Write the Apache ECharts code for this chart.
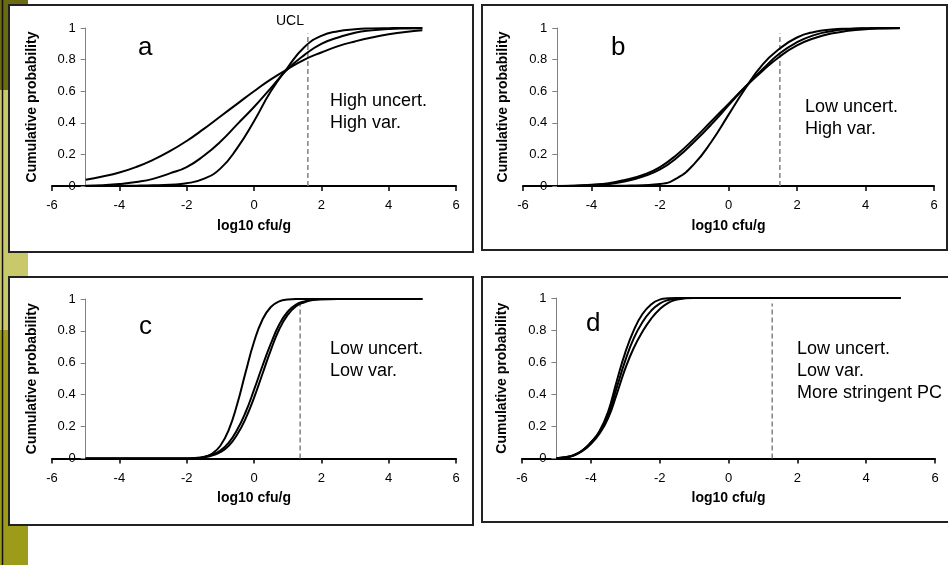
<!DOCTYPE html>
<html>
<head>
<meta charset="utf-8">
<script src="https://cdn.jsdelivr.net/npm/echarts@6/dist/echarts.min.js"></script>
<style>
html, body { margin: 0; padding: 0; background: #fff; }
#chart { width: 948px; height: 565px; }
</style>
</head>
<body>
<div id="chart"></div>
<script>
// x values (log10 cfu/g)
var xsAB = [-5, -4.5, -4, -3.5, -3, -2.5, -2, -1.5, -1, -0.5, 0, 0.5, 1, 1.5, 2, 2.5, 3, 3.5, 4, 4.5, 5];
var xsC = [-5, -2.5, -2, -1.75, -1.5, -1.25, -1, -0.75, -0.5, -0.25, 0, 0.25, 0.5, 0.75, 1, 1.25, 1.5, 1.75, 2, 2.5, 3, 5];
var xsD = [-5, -4.75, -4.5, -4.25, -4, -3.75, -3.5, -3.25, -3, -2.75, -2.5, -2.25, -2, -1.75, -1.5, -1.25, -1, 0, 5];

// panel a: high uncertainty, high variability
var a1 = [0.04, 0.06, 0.085, 0.12, 0.165, 0.22, 0.285, 0.36, 0.44, 0.52, 0.60, 0.675, 0.74, 0.80, 0.845, 0.885, 0.915, 0.94, 0.96, 0.975, 0.985];
var a2 = [0.002, 0.005, 0.012, 0.025, 0.045, 0.08, 0.12, 0.19, 0.28, 0.39, 0.50, 0.62, 0.74, 0.83, 0.90, 0.94, 0.97, 0.985, 0.993, 0.997, 0.999];
var a3 = [0, 0, 0.001, 0.002, 0.004, 0.008, 0.017, 0.045, 0.11, 0.24, 0.41, 0.60, 0.75, 0.88, 0.95, 0.98, 0.992, 0.997, 0.999, 1, 1];

// panel b: low uncertainty, high variability
var b1 = [0, 0.002, 0.008, 0.018, 0.04, 0.07, 0.12, 0.2, 0.3, 0.41, 0.52, 0.63, 0.73, 0.82, 0.89, 0.935, 0.965, 0.982, 0.992, 0.997, 0.999];
var b2 = [0, 0.001, 0.005, 0.012, 0.03, 0.06, 0.105, 0.18, 0.28, 0.39, 0.51, 0.63, 0.74, 0.84, 0.91, 0.955, 0.98, 0.992, 0.997, 0.999, 1];
var b3 = [0, 0, 0, 0.001, 0.002, 0.005, 0.012, 0.05, 0.14, 0.28, 0.45, 0.62, 0.77, 0.87, 0.94, 0.975, 0.99, 0.996, 0.999, 1, 1];

// panel c: low uncertainty, low variability
var c1 = [0, 0, 0, 0.001, 0.008, 0.03, 0.08, 0.18, 0.34, 0.54, 0.73, 0.87, 0.95, 0.985, 0.997, 1, 1, 1, 1, 1, 1, 1];
var c2 = [0, 0, 0, 0.003, 0.01, 0.025, 0.05, 0.1, 0.18, 0.29, 0.43, 0.58, 0.72, 0.84, 0.92, 0.965, 0.985, 0.995, 0.999, 1, 1, 1];
var c3 = [0, 0, 0, 0.002, 0.007, 0.018, 0.04, 0.08, 0.15, 0.25, 0.38, 0.53, 0.68, 0.81, 0.9, 0.955, 0.98, 0.993, 0.998, 1, 1, 1];

// panel d: more stringent PC
var d1 = [0.002, 0.008, 0.02, 0.05, 0.1, 0.17, 0.29, 0.48, 0.66, 0.8, 0.9, 0.96, 0.99, 0.998, 1, 1, 1, 1, 1];
var d2 = [0.002, 0.008, 0.02, 0.05, 0.1, 0.165, 0.27, 0.44, 0.61, 0.75, 0.85, 0.92, 0.965, 0.988, 0.997, 1, 1, 1, 1];
var d3 = [0.002, 0.007, 0.018, 0.045, 0.09, 0.155, 0.25, 0.4, 0.56, 0.69, 0.79, 0.87, 0.93, 0.97, 0.99, 0.998, 1, 1, 1];

// UCL (dashed line) per panel
var uclValues = [1.6, 1.5, 1.37, 1.27];
var uclTop = 0.965;

var panelLetters = ['a', 'b', 'c', 'd'];
var panelNotes = [
	'High uncert.\nHigh var.',
	'Low uncert.\nHigh var.',
	'Low uncert.\nLow var.',
	'Low uncert.\nLow var.\nMore stringent PC'
];
var xName = 'log10 cfu/g';
var yName = 'Cumulative probability';

var FONT = 'Arial, "Liberation Sans", sans-serif';

var panels = [
	{ box: [52, 28, 404, 158], xs: xsAB, curves: [a1, a2, a3], letterPos: [138, 35], notePos: [330, 90] },
	{ box: [523, 28, 411, 158], xs: xsAB, curves: [b1, b2, b3], letterPos: [611, 35], notePos: [805, 96] },
	{ box: [52, 299, 404, 159.5], xs: xsC, curves: [c1, c2, c3], letterPos: [139, 314], notePos: [330, 338] },
	{ box: [522, 298, 413, 160.5], xs: xsD, curves: [d1, d2, d3], letterPos: [586, 311], notePos: [797, 338] }
];

var grids = [], xAxes = [], yAxes = [], series = [];

panels.forEach(function (p, i) {
	var l = p.box[0], t = p.box[1], w = p.box[2], h = p.box[3];
	// x axis grid: -6 .. 6
	grids.push({ left: l, top: t, width: w, height: h });
	// y axis sits at x = -5, curves are drawn here
	grids.push({ left: l + w / 12, top: t, width: w * 11 / 12, height: h });

	xAxes.push({
		gridIndex: 2 * i, type: 'value', min: -6, max: 6, interval: 2,
		name: xName, nameLocation: 'middle', nameGap: 33,
		nameTextStyle: { fontFamily: FONT, fontSize: 14, fontWeight: 'bold', color: '#000' },
		axisLine: { onZero: false, lineStyle: { color: '#000', width: 2 } },
		axisTick: { show: true, length: 5, lineStyle: { color: '#000', width: 1.5 } },
		axisLabel: { fontFamily: FONT, fontSize: 13, color: '#000', margin: 13 },
		splitLine: { show: false }
	});
	yAxes.push({ gridIndex: 2 * i, type: 'value', min: 0, max: 1, show: false });

	xAxes.push({ gridIndex: 2 * i + 1, type: 'value', min: -5, max: 6, show: false });
	yAxes.push({
		gridIndex: 2 * i + 1, type: 'value', min: 0, max: 1, interval: 0.2,
		name: yName, nameLocation: 'middle', nameGap: 47,
		nameTextStyle: { fontFamily: FONT, fontSize: 14, fontWeight: 'bold', color: '#000' },
		axisLine: { show: true, onZero: false, lineStyle: { color: '#808080', width: 1 } },
		axisTick: { show: true, length: 5, lineStyle: { color: '#808080', width: 1 } },
		axisLabel: { fontFamily: FONT, fontSize: 13, color: '#000', margin: 10 },
		splitLine: { show: false }
	});

	p.curves.forEach(function (ys) {
		series.push({
			type: 'line', xAxisIndex: 2 * i + 1, yAxisIndex: 2 * i + 1,
			data: p.xs.map(function (x, k) { return [x, ys[k]]; }),
			smooth: 0.5, showSymbol: false, symbol: 'none',
			lineStyle: { color: '#000', width: 2 }, z: 3
		});
	});

	// UCL dashed line
	series.push({
		type: 'line', xAxisIndex: 2 * i + 1, yAxisIndex: 2 * i + 1,
		data: [[uclValues[i], 0], [uclValues[i], uclTop]],
		showSymbol: false, symbol: 'none',
		lineStyle: { color: '#808080', width: 1.5, type: [5, 3] }, z: 2
	});
});

// panel frames, left olive strip, labels
var graphics = [
	{ type: 'rect', shape: { x: 0, y: 0, width: 8, height: 90 }, style: { fill: '#6b6b12' }, silent: true },
	{ type: 'rect', shape: { x: 0, y: 90, width: 8, height: 240 }, style: { fill: '#c9c96b' }, silent: true },
	{ type: 'rect', shape: { x: 0, y: 330, width: 8, height: 235 }, style: { fill: '#9c9c1a' }, silent: true },
	{ type: 'rect', shape: { x: 0, y: 0, width: 28, height: 5 }, style: { fill: '#6b6b12' }, silent: true },
	{ type: 'rect', shape: { x: 8, y: 253, width: 20, height: 24 }, style: { fill: '#c9c96b' }, silent: true },
	{ type: 'rect', shape: { x: 8, y: 525, width: 20, height: 40 }, style: { fill: '#9c9c1a' }, silent: true },
	{ type: 'line', shape: { x1: 2.5, y1: 0, x2: 2.5, y2: 565 }, style: { stroke: '#111', lineWidth: 1.5 }, silent: true },
	{ type: 'rect', shape: { x: 9, y: 5, width: 464, height: 247 }, style: { fill: null, stroke: '#222', lineWidth: 2 }, silent: true },
	{ type: 'rect', shape: { x: 482, y: 5, width: 465, height: 245 }, style: { fill: null, stroke: '#222', lineWidth: 2 }, silent: true },
	{ type: 'rect', shape: { x: 9, y: 277, width: 464, height: 248 }, style: { fill: null, stroke: '#222', lineWidth: 2 }, silent: true },
	{ type: 'rect', shape: { x: 482, y: 277, width: 480, height: 245 }, style: { fill: null, stroke: '#222', lineWidth: 2 }, silent: true },
	{ type: 'text', x: 290, y: 14, style: { text: 'UCL', fontFamily: FONT, fontSize: 14, fill: '#000', align: 'center' }, silent: true }
];

panels.forEach(function (p, i) {
	graphics.push({
		type: 'text', x: p.letterPos[0], y: p.letterPos[1],
		style: { text: panelLetters[i], fontFamily: FONT, fontSize: 26, fill: '#000' }, silent: true
	});
	graphics.push({
		type: 'text', x: p.notePos[0], y: p.notePos[1],
		style: { text: panelNotes[i], fontFamily: FONT, fontSize: 18, lineHeight: 22, fill: '#000' }, silent: true
	});
});

var myChart = echarts.init(document.getElementById('chart'));
myChart.setOption({
	animation: false,
	backgroundColor: '#fff',
	grid: grids,
	xAxis: xAxes,
	yAxis: yAxes,
	series: series,
	graphic: graphics
});
</script>
</body>
</html>
